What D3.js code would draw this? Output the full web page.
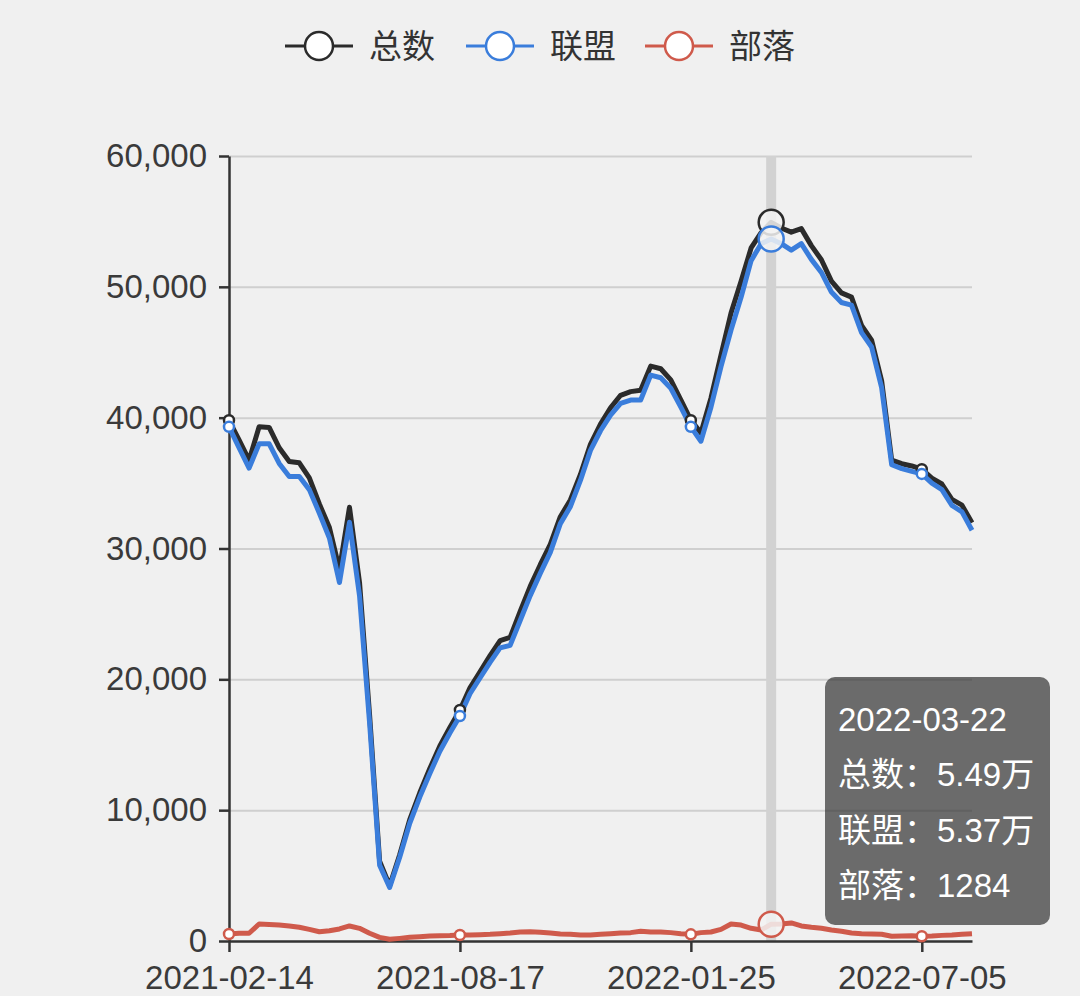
<html>
<head>
  <title>总数 / 联盟 / 部落</title>
  <meta charset="utf-8">
  <style type="text/css">
    body { margin: 0; background: #f0f0f0; }
    svg text { font-family: "Liberation Sans", "Noto Sans CJK SC", sans-serif; }
    .line { fill: none; stroke-width: 5; stroke-linejoin: round; }
    .axis path, .axis line { stroke: #333; stroke-width: 2.5; }
    .axis text { fill: #3a3a3a; font-size: 33px; }
    .grid line { stroke: #cfcfcf; stroke-width: 2; }
    .grid path { display: none; }
  </style>
</head>
<body>
<script src="https://cdn.jsdelivr.net/npm/d3@7/dist/d3.min.js"></script>
<script>
  var dates = [
    "2021-02-14", "2021-03-16", "2021-03-23", "2021-03-30", "2021-04-06", "2021-04-13", "2021-04-20", "2021-04-27",
    "2021-05-04", "2021-05-11", "2021-05-18", "2021-05-25", "2021-06-01", "2021-06-08", "2021-06-15", "2021-06-22",
    "2021-06-29", "2021-07-06", "2021-07-13", "2021-07-20", "2021-07-27", "2021-08-03", "2021-08-10", "2021-08-17",
    "2021-08-24", "2021-08-31", "2021-09-07", "2021-09-14", "2021-09-21", "2021-09-28", "2021-10-05", "2021-10-12",
    "2021-10-19", "2021-10-26", "2021-11-02", "2021-11-09", "2021-11-16", "2021-11-23", "2021-11-30", "2021-12-07",
    "2021-12-14", "2021-12-21", "2021-12-28", "2022-01-04", "2022-01-11", "2022-01-18", "2022-01-25", "2022-02-01",
    "2022-02-08", "2022-02-15", "2022-02-22", "2022-03-01", "2022-03-08", "2022-03-15", "2022-03-22", "2022-03-29",
    "2022-04-05", "2022-04-12", "2022-04-19", "2022-04-26", "2022-05-03", "2022-05-10", "2022-05-17", "2022-05-24",
    "2022-05-31", "2022-06-07", "2022-06-14", "2022-06-21", "2022-06-28", "2022-07-05", "2022-07-12", "2022-07-19",
    "2022-07-26", "2022-08-02", "2022-08-09"
  ];

  // 总数
  var totalValues = [
    39800, 38300, 36750, 39300, 39250, 37700, 36650, 36550, 35400, 33400, 31600, 28400, 33150, 27400, 17300, 6100,
    4230, 6600, 9280, 11330, 13180, 14900, 16320, 17660, 19360, 20580, 21810, 22960, 23210, 25190, 27110, 28760,
    30310, 32430, 33710, 35660, 37960, 39510, 40760, 41710, 41990, 42090, 43940, 43740, 42890, 41360, 39810, 38840,
    41490, 44790, 48000, 50420, 52970, 54140, 54930, 54500, 54180, 54450, 53150, 52070, 50440, 49540, 49210, 47060,
    45930, 42810, 36760, 36480, 36310, 36060, 35380, 34930, 33760, 33310, 31960
  ];

  // 联盟
  var allianceValues = [
    39300, 37700, 36150, 38000, 38000, 36500, 35500, 35500, 34500, 32700, 30800, 27400, 32000, 26400, 16700, 5800,
    4100, 6400, 9000, 11000, 12800, 14500, 15900, 17200, 18900, 20100, 21300, 22400, 22600, 24500, 26400, 28100,
    29700, 31900, 33200, 35200, 37500, 39000, 40200, 41100, 41350, 41350, 43250, 43050, 42250, 40800, 39300, 38200,
    40800, 43900, 46700, 49200, 52000, 53300, 53660, 53300, 52800, 53300, 52100, 51100, 49600, 48800, 48600, 46500,
    45400, 42300, 36400, 36100, 35900, 35700, 35000, 34500, 33300, 32800, 31400
  ];

  // 部落
  var hordeValues = [
    535, 590, 590, 1300, 1270, 1220, 1150, 1050, 890, 710, 790, 920, 1150, 970, 590, 280,
    130, 200, 280, 330, 380, 400, 420, 460, 460, 480, 510, 560, 610, 690, 710, 660,
    610, 530, 510, 460, 460, 510, 560, 610, 640, 740, 690, 690, 640, 560, 510, 640,
    690, 890, 1300, 1220, 970, 840, 1284, 1300, 1380, 1150, 1050, 970, 840, 740, 610, 560,
    530, 510, 360, 380, 410, 360, 380, 430, 460, 510, 560
  ];

  var seriesNames = ["总数", "联盟", "部落"];
  var seriesColors = ["#2b2b2b", "#3a7ddb", "#cf5a4b"];
  var yTicks = [0, 10000, 20000, 30000, 40000, 50000, 60000];
  var labelDates = ["2021-02-14", "2021-08-17", "2022-01-25", "2022-07-05"];
  var hoverDate = "2022-03-22";

  var series = [totalValues, allianceValues, hordeValues];

  var width = 1080, height = 996;
  var margin = { top: 156, right: 108, bottom: 55, left: 229 };

  var svg = d3.select("body").append("svg")
    .attr("width", width)
    .attr("height", height);

  svg.append("rect")
    .attr("width", width)
    .attr("height", height)
    .attr("fill", "#f0f0f0");

  var xScale = d3.scalePoint()
    .domain(dates)
    .range([margin.left, width - margin.right]);

  var yScale = d3.scaleLinear()
    .domain([0, 60000])
    .range([height - margin.bottom, margin.top]);

  // grid lines
  svg.append("g")
    .attr("class", "grid")
    .attr("transform", "translate(" + margin.left + ",0)")
    .call(d3.axisLeft(yScale).tickValues(yTicks.slice(1)).tickSize(-(width - margin.left - margin.right)).tickFormat(""));

  // hover band
  svg.append("line")
    .attr("x1", xScale(hoverDate))
    .attr("x2", xScale(hoverDate))
    .attr("y1", yScale(60000))
    .attr("y2", yScale(0))
    .attr("stroke", "#d2d2d2")
    .attr("stroke-width", 10);

  // axes
  svg.append("g")
    .attr("class", "axis")
    .attr("transform", "translate(" + margin.left + ",0)")
    .call(d3.axisLeft(yScale).tickValues(yTicks).tickFormat(d3.format(",")).tickSize(10).tickPadding(12).tickSizeOuter(0));

  svg.append("g")
    .attr("class", "axis")
    .attr("transform", "translate(0," + (height - margin.bottom) + ")")
    .call(d3.axisBottom(xScale).tickValues(labelDates).tickSize(11).tickPadding(14).tickSizeOuter(0));

  // lines
  var line = d3.line()
    .x(function (d, i) { return xScale(dates[i]); })
    .y(function (d) { return yScale(d); });

  series.forEach(function (values, k) {
    svg.append("path")
      .datum(values)
      .attr("class", "line")
      .attr("stroke", seriesColors[k])
      .attr("d", line);
  });

  // small markers at labelled dates
  series.forEach(function (values, k) {
    svg.append("g").selectAll("circle")
      .data(labelDates)
      .enter()
      .append("circle")
      .attr("cx", function (d) { return xScale(d); })
      .attr("cy", function (d) { return yScale(values[dates.indexOf(d)]); })
      .attr("r", 5)
      .attr("fill", "#fff")
      .attr("stroke", seriesColors[k])
      .attr("stroke-width", 2.5);
  });

  // hovered point markers
  var hi = dates.indexOf(hoverDate);
  series.forEach(function (values, k) {
    svg.append("circle")
      .attr("cx", xScale(hoverDate))
      .attr("cy", yScale(values[hi]))
      .attr("r", 12.5)
      .attr("fill", "#f3f3f3")
      .attr("fill-opacity", 0.85)
      .attr("stroke", seriesColors[k])
      .attr("stroke-width", 2.5);
  });

  // legend
  var legendX = [285, 466, 645];
  var legend = svg.append("g");
  seriesNames.forEach(function (name, k) {
    var g = legend.append("g").attr("transform", "translate(" + legendX[k] + ",46)");
    g.append("line")
      .attr("x1", 0).attr("x2", 68)
      .attr("stroke", seriesColors[k])
      .attr("stroke-width", 3);
    g.append("circle")
      .attr("cx", 34)
      .attr("r", 14)
      .attr("fill", "#fff")
      .attr("stroke", seriesColors[k])
      .attr("stroke-width", 2.5);
    g.append("text")
      .attr("x", 84)
      .attr("dy", "0.35em")
      .attr("font-size", 33)
      .attr("fill", "#333")
      .text(name);
  });

  // tooltip
  function fmt(v) {
    return v >= 10000 ? (v / 10000).toFixed(2) + "万" : String(v);
  }
  var tip = svg.append("g").attr("transform", "translate(825,677)");
  tip.append("rect")
    .attr("width", 225)
    .attr("height", 248)
    .attr("rx", 10)
    .attr("fill", "rgba(50,50,50,0.7)");
  var tipLines = [hoverDate].concat(seriesNames.map(function (name, k) {
    return name + "：" + fmt(series[k][hi]);
  }));
  tip.selectAll("text")
    .data(tipLines)
    .enter()
    .append("text")
    .attr("x", 13)
    .attr("y", function (d, i) { return 42 + i * 55.5; })
    .attr("dy", "0.35em")
    .attr("font-size", 33)
    .attr("fill", "#fff")
    .text(function (d) { return d; });
</script>
</body>
</html>
